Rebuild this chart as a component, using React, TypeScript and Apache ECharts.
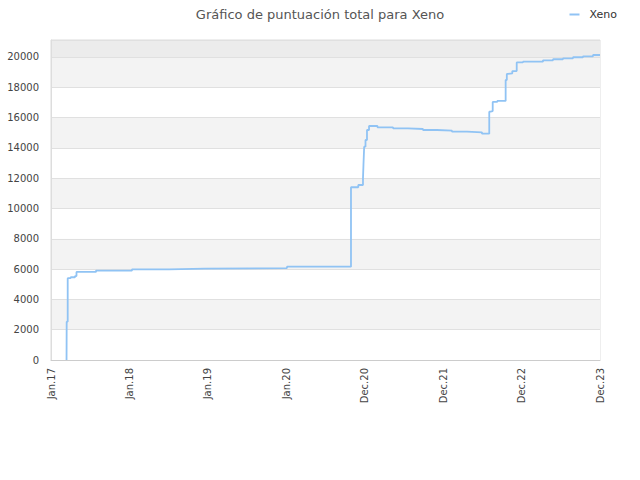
import React, { useEffect, useRef } from "react";
import * as echarts from "echarts";

const titleText = "Gráfico de puntuación total para Xeno";
const seriesName = "Xeno";
const tickLabels = ["Jan.17", "Jan.18", "Jan.19", "Jan.20", "Dec.20", "Dec.21", "Dec.22", "Dec.23"];

// x position in label-interval units (0 = Jan.17, 7 = Dec.23)
const pointX = [
  0.198, 0.2, 0.213, 0.251, 0.306, 0.325, 0.574, 1.033, 1.505, 1.964, 3.009,
  3.825, 3.918, 3.978, 3.984, 3.993, 4.01, 4.029, 4.055, 4.163, 4.361, 4.552,
  4.743, 4.922, 5.113, 5.304, 5.495, 5.588, 5.606, 5.632, 5.69, 5.797, 5.812,
  5.827, 5.882, 5.938, 6.018, 6.273, 6.401, 6.528, 6.656, 6.783, 6.911, 7.0,
];
const pointY = [
  0, 2530, 5400, 5460, 5540, 5810, 5900, 5985, 6025, 6070, 6160,
  11400, 11550, 12000, 12870, 14080, 14520, 15180, 15444, 15356, 15290, 15246,
  15180, 15136, 15070, 15026, 14940, 16390, 16430, 17030, 17100, 18480, 18880,
  18920, 19070, 19640, 19690, 19780, 19850, 19910, 19980, 20040, 20130, 20130,
];

const bandColors = [
  "#ffffff", "#f3f3f3", "#ffffff", "#f3f3f3", "#ffffff", "#f3f3f3",
  "#ffffff", "#f3f3f3", "#ffffff", "#f3f3f3", "#ececec",
];

export default function App() {
  const ref = useRef<HTMLDivElement>(null);
  useEffect(() => {
    document.body.style.margin = "0";
    if (!ref.current) return;
    const chart = echarts.init(ref.current, undefined, { renderer: "svg" });
    const font = "DejaVu Sans";
    chart.setOption({
      animation: false,
      backgroundColor: "#ffffff",
      textStyle: { fontFamily: font },
      title: {
        text: titleText,
        left: "center",
        top: 3,
        textStyle: { fontFamily: font, fontSize: 13, fontWeight: "normal", color: "#555555" },
      },
      legend: {
        right: 18,
        top: 4,
        icon: "rect",
        itemWidth: 10,
        itemHeight: 2,
        textStyle: { fontFamily: font, fontSize: 11, color: "#333333", padding: [0, 0, 0, 5] },
        data: [seriesName],
      },
      grid: {
        left: 51,
        right: 40,
        top: 40,
        bottom: 120,
        show: true,
        borderColor: "#dddddd",
        borderWidth: 1,
        containLabel: false,
      },
      xAxis: {
        type: "value",
        min: 0,
        max: 7,
        interval: 1,
        axisLine: { show: true, lineStyle: { color: "#cccccc" } },
        axisTick: { show: false },
        splitLine: { show: false },
        axisLabel: {
          rotate: 90,
          fontFamily: font,
          fontSize: 10,
          color: "#444444",
          margin: 8,
          formatter: (v: number) => tickLabels[Math.round(v)] ?? "",
        },
      },
      yAxis: {
        type: "value",
        min: 0,
        max: 21120,
        interval: 2000,
        axisLine: { show: true, lineStyle: { color: "#dddddd" } },
        axisTick: { show: false },
        splitLine: { show: true, lineStyle: { color: "#e0e0e0" } },
        splitArea: { show: true, areaStyle: { color: bandColors } },
        axisLabel: {
          fontFamily: font,
          fontSize: 10,
          color: "#444444",
          margin: 12,
          showMaxLabel: false,
          formatter: (v: number) => String(v),
        },
      },
      series: [
        {
          name: seriesName,
          type: "line",
          step: "end",
          symbol: "none",
          lineStyle: { color: "#90c3f4", width: 1.8 },
          itemStyle: { color: "#90c3f4" },
          data: pointX.map((x, i) => [x, pointY[i]]),
        },
      ],
    });
    return () => chart.dispose();
  }, []);
  return <div ref={ref} style={{ width: 640, height: 480 }} />;
}
